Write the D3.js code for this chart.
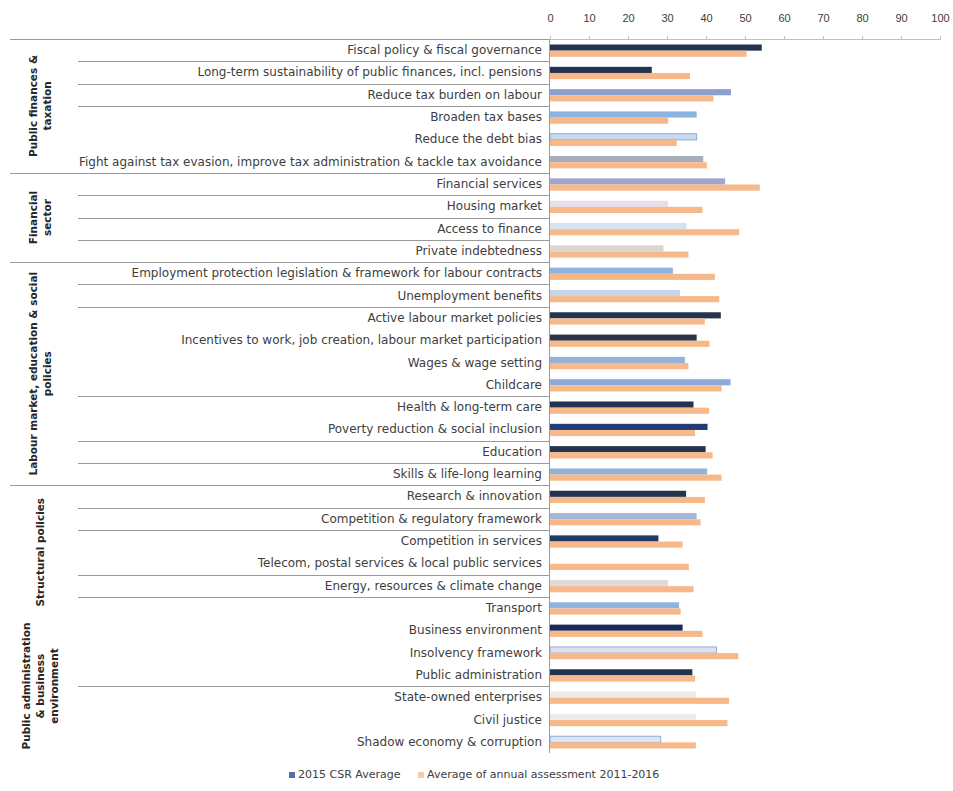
<!DOCTYPE html>
<html>
<head>
<meta charset="utf-8">
<script src="https://cdn.jsdelivr.net/npm/d3@7"></script>
<style>
  body { margin: 0; background: #fff; }
  svg { font-family: "DejaVu Sans", "Liberation Sans", Arial, sans-serif; }
</style>
</head>
<body>
<div id="chart"></div>
<script>
// categories, top to bottom
var categories = [
  "Fiscal policy & fiscal governance",
  "Long-term sustainability of public finances, incl. pensions",
  "Reduce tax burden on labour",
  "Broaden tax bases",
  "Reduce the debt bias",
  "Fight against tax evasion, improve tax administration & tackle tax avoidance",
  "Financial services",
  "Housing market",
  "Access to finance",
  "Private indebtedness",
  "Employment protection legislation & framework for labour contracts",
  "Unemployment benefits",
  "Active labour market policies",
  "Incentives to work, job creation, labour market participation",
  "Wages & wage setting",
  "Childcare",
  "Health & long-term care",
  "Poverty reduction & social inclusion",
  "Education",
  "Skills & life-long learning",
  "Research & innovation",
  "Competition & regulatory framework",
  "Competition in services",
  "Telecom, postal services & local public services",
  "Energy, resources & climate change",
  "Transport",
  "Business environment",
  "Insolvency framework",
  "Public administration",
  "State-owned enterprises",
  "Civil justice",
  "Shadow economy & corruption"
];

var csrAvg = [54.3, 26.1, 46.4, 37.6, 37.6, 39.3, 44.9, 30.3, 35.0, 29.1,
              31.5, 33.3, 43.8, 37.6, 34.6, 46.3, 36.8, 40.4, 39.9, 40.3,
              34.9, 37.6, 27.8, null, 30.3, 33.1, 34.0, 42.7, 36.5, 37.4,
              37.4, 28.4];

var annualAvg = [50.4, 35.9, 41.9, 30.3, 32.5, 40.2, 53.8, 39.1, 48.5, 35.5,
                 42.3, 43.4, 39.7, 40.9, 35.5, 44.0, 40.8, 37.2, 41.7, 44.0,
                 39.7, 38.6, 34.0, 35.6, 36.8, 33.5, 39.1, 48.3, 37.2, 45.9,
                 45.5, 37.4];

var seriesNames = ["2015 CSR Average", "Average of annual assessment 2011-2016"];
var xTicks = [0, 10, 20, 30, 40, 50, 60, 70, 80, 90, 100];

// policy groups: label lines and how many categories each covers
var groupLines = [
  ["Public finances &", "taxation"],
  ["Financial", "sector"],
  ["Labour market, education & social", "policies"],
  ["Structural policies"],
  ["Public administration", "& business", "environment"]
];
var groupSizes = [6, 4, 10, 6, 6];

// inner separators drawn after these category indexes
var innerBreaks = [0, 1, 2, 6, 7, 8, 10, 11, 15, 17, 18, 20, 21, 23, 24, 28];

// fill of each CSR bar (they differ per category in the original)
var csrColors = ["#24344f", "#24344f", "#8d9fcc", "#8db3e0", "#c8d9f0", "#a7adbb",
                 "#9ea5d0", "#e5dfec", "#d6e2f2", "#dcd6cc", "#8db3e0", "#c6d3ea",
                 "#24344f", "#2a3547", "#95b3d7", "#8eaadb", "#24344f", "#1f3c74",
                 "#24344f", "#95b3d7", "#24344f", "#a5b7d4", "#1f3864", "#ffffff",
                 "#e0dbd8", "#8db3e0", "#17295a", "#e4dfec", "#24344f", "#ecebe8",
                 "#ecebe8", "#dce6f2"];
var outlined = [4, 27, 31];
var orange = "#f7b98a";

var W = 953, H = 791;
var x0 = 550, x1 = 940, yTop = 39, yBot = 753;

var svg = d3.select("#chart").append("svg")
    .attr("width", W)
    .attr("height", H);

var x = d3.scaleLinear().domain([0, 100]).range([x0, x1]);
var y = d3.scaleBand().domain(d3.range(categories.length)).range([yTop, yBot]).paddingInner(0).paddingOuter(0);
var ySub = d3.scaleBand().domain([0, 1]).range([5.5, y.bandwidth() - 4.5]);

// top axis
var xAxis = svg.append("g")
    .attr("transform", "translate(0," + yTop + ")")
    .call(d3.axisTop(x).tickValues(xTicks).tickSize(3).tickPadding(14));
xAxis.select(".domain").attr("stroke", "#bfbfbf");
xAxis.selectAll(".tick line").attr("stroke", "#bfbfbf");
xAxis.selectAll("text").attr("fill", "#404040").style("font-size", "11px");

// separators
svg.selectAll(".inner").data(innerBreaks).enter().append("line")
    .attr("x1", 78).attr("x2", x0)
    .attr("y1", function (d) { return Math.round(y(d) + y.bandwidth()) + 0.5; })
    .attr("y2", function (d) { return Math.round(y(d) + y.bandwidth()) + 0.5; })
    .attr("stroke", "#9a9a9a");

var starts = [0];
groupSizes.forEach(function (s, i) { starts.push(starts[i] + s); });

svg.selectAll(".outer").data(starts.slice(0, 4)).enter().append("line")
    .attr("x1", 10).attr("x2", x0)
    .attr("y1", function (d) { return Math.round(y(d)) + 0.5; })
    .attr("y2", function (d) { return Math.round(y(d)) + 0.5; })
    .attr("stroke", "#9a9a9a");

// category axis line
svg.append("line")
    .attr("x1", x0 - 0.5).attr("x2", x0 - 0.5)
    .attr("y1", yTop).attr("y2", yBot)
    .attr("stroke", "#9a9a9a");

// category labels
svg.selectAll(".cat").data(categories).enter().append("text")
    .attr("x", x0 - 8)
    .attr("y", function (d, i) { return y(i) + y.bandwidth() / 2 + 4; })
    .attr("text-anchor", "end")
    .attr("fill", "#404040")
    .style("font-size", "12px")
    .text(function (d) { return d; });

// group labels, rotated
groupLines.forEach(function (lines, g) {
    var cy = (y(starts[g]) + y(starts[g + 1] - 1) + y.bandwidth()) / 2;
    var t = svg.append("text")
        .attr("transform", "translate(40," + cy + ") rotate(-90)")
        .attr("text-anchor", "middle")
        .attr("fill", "#262626")
        .style("font-size", "10.5px")
        .style("font-weight", "bold");
    lines.forEach(function (l, k) {
        t.append("tspan")
            .attr("x", 0)
            .attr("y", (k - (lines.length - 1) / 2) * 14 + 4)
            .text(l);
    });
});

// bars
var rows = svg.selectAll(".row").data(categories).enter().append("g")
    .attr("transform", function (d, i) { return "translate(0," + y(i) + ")"; });

rows.filter(function (d, i) { return csrAvg[i] != null; })
    .append("rect")
    .attr("x", x(0))
    .attr("y", ySub(0))
    .attr("height", ySub.bandwidth())
    .attr("width", function (d) { var i = categories.indexOf(d); return x(csrAvg[i]) - x(0); })
    .attr("fill", function (d) { return csrColors[categories.indexOf(d)]; })
    .attr("stroke", function (d) { return outlined.indexOf(categories.indexOf(d)) >= 0 ? "#7f9cc8" : "none"; })
    .attr("stroke-width", 0.8);

rows.append("rect")
    .attr("x", x(0))
    .attr("y", ySub(1))
    .attr("height", ySub.bandwidth())
    .attr("width", function (d, i) { return x(annualAvg[i]) - x(0); })
    .attr("fill", orange);

// legend
var legend = svg.append("g").attr("transform", "translate(0,776)");
var legX = [289, 418];
var legCol = ["#4f6fae", "#f8cbad"];
seriesNames.forEach(function (s, i) {
    legend.append("rect").attr("x", legX[i]).attr("y", -4).attr("width", 6).attr("height", 6).attr("fill", legCol[i]);
    legend.append("text").attr("x", legX[i] + 9).attr("y", 2)
        .attr("fill", "#404040").style("font-size", "11px").text(s);
});
</script>
</body>
</html>
